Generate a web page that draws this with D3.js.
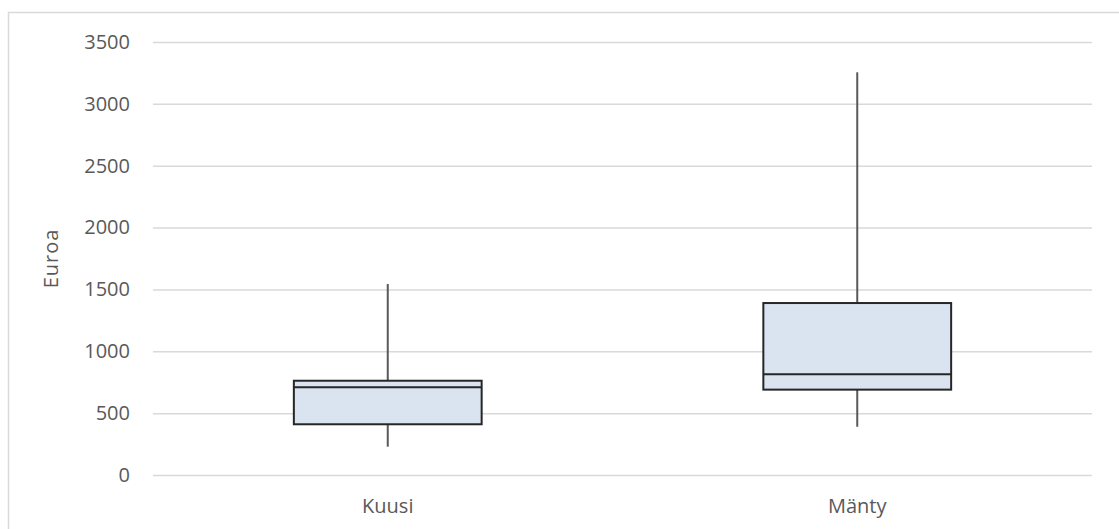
<!DOCTYPE html>
<html>
<head>
<meta charset="utf-8">
<script src="https://cdn.jsdelivr.net/npm/d3@7/dist/d3.min.js"></script>
<style>
  html, body { margin: 0; padding: 0; background: #fff; }
  svg { display: block; font-family: "Open Sans", "Noto Sans", sans-serif; }
</style>
</head>
<body>
<svg id="chart" width="1119" height="529"></svg>
<script>
// Price distribution per tree species (euros)
const categories = ["Kuusi", "Mänty"];
const whiskerLow  = [229, 390];
const quartile1   = [410, 690];
const medians     = [709, 814];
const quartile3   = [762, 1390];
const whiskerHigh = [1544, 3255];
const yTicks = [0, 500, 1000, 1500, 2000, 2500, 3000, 3500];
const yTitle = "Euroa";

const W = 1119, H = 529;
const plot = { left: 153, right: 1092, top: 42, bottom: 475 };

const svg = d3.select("#chart");

// outer chart frame
svg.append("rect")
  .attr("x", 8.5).attr("y", 12.5)
  .attr("width", W + 20).attr("height", H + 20)
  .attr("fill", "none").attr("stroke", "#d9d9d9").attr("stroke-width", 1.5);

const y = d3.scaleLinear().domain([0, 3500]).range([plot.bottom, plot.top]);
const x = d3.scaleBand().domain(categories).range([plot.left, plot.right]).paddingInner(0).paddingOuter(0);

// gridlines and tick labels
const yAxis = d3.axisLeft(y).tickValues(yTicks).tickSize(-(plot.right - plot.left)).tickPadding(23).tickFormat(d3.format("d"));
const gy = svg.append("g").attr("transform", `translate(${plot.left},0)`).call(yAxis);
gy.select(".domain").remove();
gy.selectAll(".tick line").attr("stroke", "#d9d9d9").attr("stroke-width", 1.5);
gy.selectAll(".tick text").attr("fill", "#595959").attr("font-size", 20).attr("font-family", "'Open Sans', sans-serif");

// category labels
const xAxis = d3.axisBottom(x).tickSize(0).tickPadding(24);
const gx = svg.append("g").attr("transform", `translate(0,${plot.bottom})`).call(xAxis);
gx.select(".domain").remove();
gx.selectAll(".tick text").attr("fill", "#595959").attr("font-size", 20).attr("font-family", "'Open Sans', sans-serif");

// axis title
svg.append("text")
  .attr("transform", `translate(58,${(plot.top + plot.bottom) / 2}) rotate(-90)`)
  .attr("text-anchor", "middle")
  .attr("fill", "#595959").attr("font-size", 20)
  .attr("letter-spacing", 1)
  .text(yTitle);

// boxes
const boxW = x.bandwidth() * 0.4;
const data = categories.map((c, i) => ({
  c, lo: whiskerLow[i], q1: quartile1[i], med: medians[i], q3: quartile3[i], hi: whiskerHigh[i]
}));

const g = svg.append("g");
const cx = d => x(d.c) + x.bandwidth() / 2;

g.selectAll("line.whisk-hi").data(data).enter().append("line")
  .attr("x1", cx).attr("x2", cx)
  .attr("y1", d => y(d.hi)).attr("y2", d => y(d.q3))
  .attr("stroke", "#595959").attr("stroke-width", 2);
g.selectAll("line.whisk-lo").data(data).enter().append("line")
  .attr("x1", cx).attr("x2", cx)
  .attr("y1", d => y(d.q1)).attr("y2", d => y(d.lo))
  .attr("stroke", "#595959").attr("stroke-width", 2);

g.selectAll("rect.box").data(data).enter().append("rect")
  .attr("x", d => cx(d) - boxW / 2)
  .attr("y", d => y(d.q3))
  .attr("width", boxW)
  .attr("height", d => y(d.q1) - y(d.q3))
  .attr("fill", "#dae3f0").attr("stroke", "#262626").attr("stroke-width", 2);

g.selectAll("line.median").data(data).enter().append("line")
  .attr("x1", d => cx(d) - boxW / 2).attr("x2", d => cx(d) + boxW / 2)
  .attr("y1", d => y(d.med)).attr("y2", d => y(d.med))
  .attr("stroke", "#262626").attr("stroke-width", 2);
</script>
</body>
</html>
